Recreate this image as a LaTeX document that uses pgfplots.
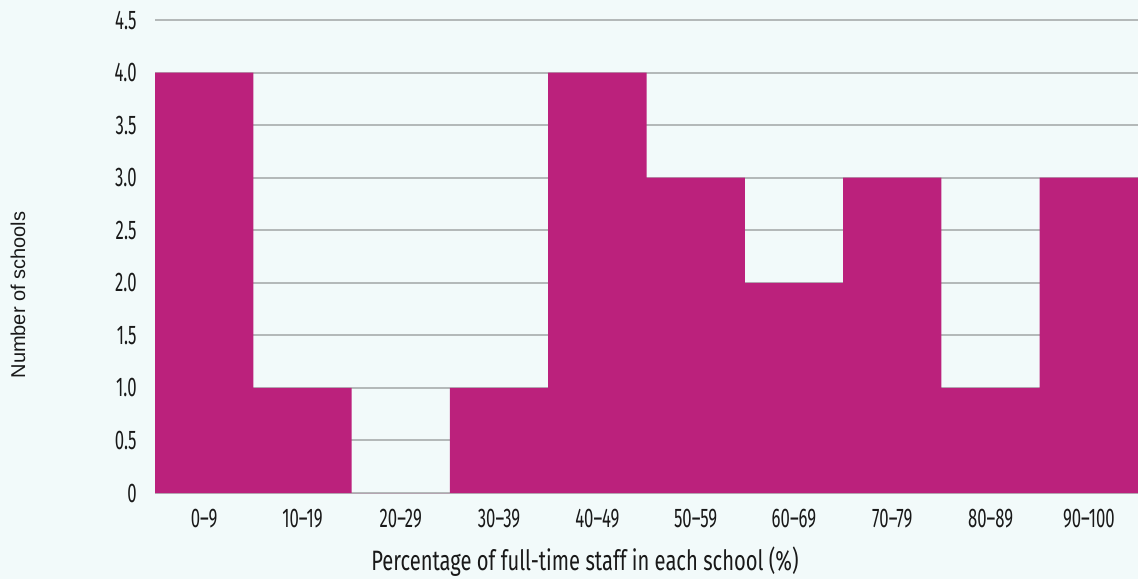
\documentclass[border=0pt]{standalone}
\usepackage{pgfplots}
\pgfplotsset{compat=1.18}
\usepackage{fontspec}
\setmainfont{Fira Sans}[FakeStretch=0.72]
\newfontfamily\tickfont{Fira Sans}[FakeStretch=0.62, Ligatures=TeX]
\newfontfamily\labelfont{Liberation Sans}
\definecolor{bgcol}{RGB}{242,250,250}
\definecolor{barcol}{RGB}{187,33,124}
\definecolor{gridcol}{RGB}{180,185,185}
\begin{document}
\begin{tikzpicture}
\fill[bgcol] (0,0) rectangle (569pt,289.5pt);
\useasboundingbox (0,0) rectangle (569pt,289.5pt);
\begin{axis}[
  at={(77.5pt,43pt)}, anchor=south west,
  scale only axis, width=491.5pt, height=236.5pt,
  xmin=-0.5, xmax=9.5, ymin=0, ymax=4.5,
  axis line style={draw=none},
  tick style={draw=none},
  ymajorgrids, grid style={gridcol, line width=1pt},
  ytick={0,0.5,...,4.5},
  yticklabels={0,0.5,1.0,1.5,2.0,2.5,3.0,3.5,4.0,4.5},
  xtick={0,...,9},
  xticklabels={0–9,10–19,20–29,30–39,40–49,50–59,60–69,70–79,80–89,90–100},
  /pgf/number format/assume math mode=true,
  ticklabel style={font=\tickfont\fontsize{13.5}{15}\selectfont, text=black!90},
  xticklabel style={anchor=center, yshift=-13pt},
  yticklabel style={anchor=east, inner sep=0pt, xshift=-9pt},
  xlabel={Percentage of full-time staff in each school (\%)},
  xlabel style={at={(axis description cs:0.4374,-0.1459)}, anchor=center,
    font=\fontsize{14}{16}\selectfont, text=black!90},
  ylabel={Number of schools},
  ylabel style={at={(axis description cs:-0.1394,0.4186)}, anchor=center,
    font=\labelfont\fontsize{10}{12}\selectfont, text=black!90},
]
\addplot[ybar, bar width=1, bar shift=0, fill=barcol, draw=none]
  coordinates {(0,4) (1,1) (2,0) (3,1) (4,4) (5,3) (6,2) (7,3) (8,1) (9,3)};
\end{axis}
\end{tikzpicture}
\end{document}
